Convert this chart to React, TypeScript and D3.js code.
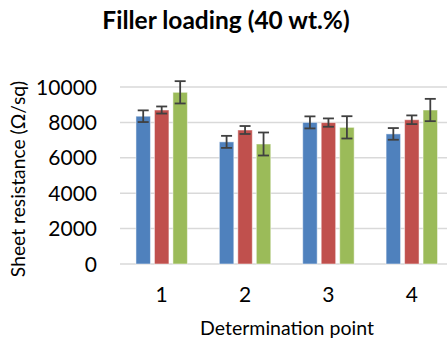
import React from 'react';
import * as d3 from 'd3';

const categories = ['1', '2', '3', '4'];
const series = ['A', 'B', 'C'];
const colors = ['#4F81BD', '#C0504D', '#9BBB59'];
// mean values per series, one per determination point
const values = [
  [8350, 6900, 8000, 7350],
  [8700, 7570, 7990, 8150],
  [9700, 6780, 7720, 8700],
];
// error bar half-widths
const errors = [
  [330, 340, 340, 330],
  [200, 225, 235, 245],
  [630, 650, 630, 630],
];
const yTicks = [0, 2000, 4000, 6000, 8000, 10000];

const W = 447;
const H = 342;
const font = 'Lato, "Open Sans", sans-serif';

export default function App() {
  const x = d3.scaleBand<string>()
    .domain(categories)
    .range([120, 453.5])
    .paddingInner(0.335)
    .paddingOuter(0.1675);

  const xs = d3.scaleBand<string>()
    .domain(series)
    .range([0, x.bandwidth()])
    .paddingInner(0);

  const y = d3.scaleLinear().domain([0, 10000]).range([264, 87]);

  const inset = 2;

  return (
    <svg width={W} height={H} style={{ position: 'absolute', left: 0, top: 0, background: '#fff' }}>
      <text x={226} y={29} textAnchor="middle" fontFamily={font} fontWeight="bold" fontSize={24.5} fill="#000">
        Filler loading (40 wt.%)
      </text>

      {yTicks.map(t => (
        <g key={t}>
          <line x1={120} x2={453} y1={y(t)} y2={y(t)} stroke="#D9D9D9" strokeWidth={1.5} />
          <text x={97} y={y(t)} dy="0.36em" textAnchor="end" fontFamily={font} fontSize={21} fill="#000">
            {t}
          </text>
        </g>
      ))}

      {series.map((s, si) => (
        <g key={s}>
          {categories.map((c, ci) => {
            const v = values[si][ci];
            const e = errors[si][ci];
            const bx = (x(c) as number) + (xs(s) as number) + inset;
            const bw = xs.bandwidth() - inset * 2;
            const cx = bx + bw / 2;
            return (
              <g key={c}>
                <rect x={bx} y={y(v)} width={bw} height={y(0) - y(v)} fill={colors[si]}
                  stroke="#fff" strokeOpacity={0.5} strokeWidth={1} />
                <line x1={cx} x2={cx} y1={y(v + e)} y2={y(v - e)} stroke="#404040" strokeWidth={1.8} />
                <line x1={cx - 5.5} x2={cx + 5.5} y1={y(v + e)} y2={y(v + e)} stroke="#404040" strokeWidth={1.8} />
                <line x1={cx - 5.5} x2={cx + 5.5} y1={y(v - e)} y2={y(v - e)} stroke="#404040" strokeWidth={1.8} />
              </g>
            );
          })}
        </g>
      ))}

      {categories.map(c => (
        <text key={c} x={(x(c) as number) + x.bandwidth() / 2} y={302} textAnchor="middle"
          fontFamily={font} fontSize={21} fill="#000">
          {c}
        </text>
      ))}

      <text x={287} y={335} textAnchor="middle" fontFamily={font} fontSize={19.5} fill="#000">
        Determination point
      </text>
      <text transform="translate(25,179) rotate(-90)" textAnchor="middle" fontFamily={font} fontSize={19.3} fill="#000">
        Sheet resistance (Ω/sq)
      </text>
    </svg>
  );
}
